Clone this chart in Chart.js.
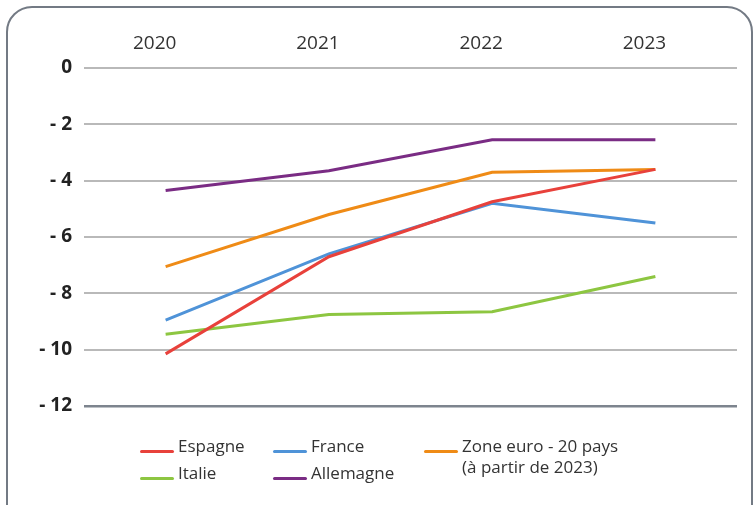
<!DOCTYPE html>
<html>
<head>
<meta charset="utf-8">
<script src="https://cdn.jsdelivr.net/npm/chart.js@4/dist/chart.umd.min.js"></script>
<style>
  html, body { margin: 0; padding: 0; background: #fff; overflow: hidden; }
  #wrap { position: relative; width: 756px; height: 505px; }
  #frame {
    position: absolute; left: 6px; top: 6px; width: 747px; height: 540px;
    border: 2px solid #737a84; border-radius: 26px; box-sizing: border-box;
  }
  #chart { position: absolute; left: 0; top: 0; }
  .leg { position: absolute; font-family: 'Open Sans', sans-serif; font-size: 17px; color: #333; line-height: 21px; }
  .leg .swatch { position: absolute; width: 34px; height: 3px; border-radius: 2px; }
</style>
</head>
<body>
<div id="wrap">
  <div id="frame"></div>
  <canvas id="chart" width="756" height="505"></canvas>
  <div id="legend"></div>
</div>
<script>
// Years and series (% of GDP, public deficit)
const years = ['2020', '2021', '2022', '2023'];
const espagne = [-10.15, -6.7, -4.75, -3.6];
const france = [-8.95, -6.6, -4.8, -5.5];
const zoneEuro = [-7.05, -5.2, -3.7, -3.6];
const italie = [-9.45, -8.75, -8.65, -7.4];
const allemagne = [-4.35, -3.65, -2.55, -2.55];
const yTicks = [0, -2, -4, -6, -8, -10, -12];

const series = [
    { label: 'Espagne', data: espagne, color: '#e8413b' },
    { label: 'France', data: france, color: '#4f93d8' },
    { label: 'Zone euro - 20 pays\n(à partir de 2023)', data: zoneEuro, color: '#ef8b16' },
    { label: 'Italie', data: italie, color: '#8dc641' },
    { label: 'Allemagne', data: allemagne, color: '#7a2c84' },
];

// legend slots: [left of swatch, top of text]
const legendPos = [[140, 435], [273, 435], [424, 435], [140, 462], [273, 462]];

const legend = document.getElementById('legend');
series.forEach((s, i) => {
    const item = document.createElement('div');
    item.className = 'leg';
    item.style.left = legendPos[i][0] + 'px';
    item.style.top = legendPos[i][1] + 'px';
    item.style.paddingLeft = '38px';
    item.innerHTML = '<span class="swatch" style="left:0;top:15px;background:' + s.color + '"></span>' +
        s.label.replace('\n', '<br>');
    legend.appendChild(item);
});

const ctx = document.getElementById('chart').getContext('2d');
new Chart(ctx, {
    type: 'line',
    data: {
        labels: years,
        datasets: series.map(s => ({
            label: s.label,
            data: s.data,
            borderColor: s.color,
            backgroundColor: s.color,
            borderWidth: 3,
            pointRadius: 0,
            tension: 0,
            fill: false,
        })),
    },
    options: {
        responsive: false,
        animation: false,
        layout: { padding: { left: 0, right: 19, top: 0, bottom: 99 } },
        plugins: { legend: { display: false }, tooltip: { enabled: false } },
        scales: {
            x: {
                position: 'top',
                offset: true,
                grid: { display: false, drawTicks: false },
                border: { display: false },
                ticks: {
                    color: '#333',
                    font: { family: 'Open Sans', size: 19 },
                    padding: 13,
                    labelOffset: -11,
                },
                afterFit(scale) { scale.height = 68; },
            },
            y: {
                min: -12,
                max: 0,
                afterBuildTicks(scale) { scale.ticks = yTicks.map(v => ({ value: v })); },
                grid: {
                    drawTicks: false,
                    lineWidth: c => (c.tick && c.tick.value === -12 ? 2.5 : 2),
                    color: c => (c.tick && c.tick.value === -12 ? '#7d848e' : '#b9b9b9'),
                },
                border: { display: false },
                ticks: {
                    color: '#222',
                    font: { family: 'Open Sans', size: 19, weight: 'bold' },
                    padding: 12,
                    callback: v => (v === 0 ? '0' : '- ' + Math.abs(v)),
                },
                afterFit(scale) { scale.width = 84; },
            },
        },
    },
});
</script>
</body>
</html>
